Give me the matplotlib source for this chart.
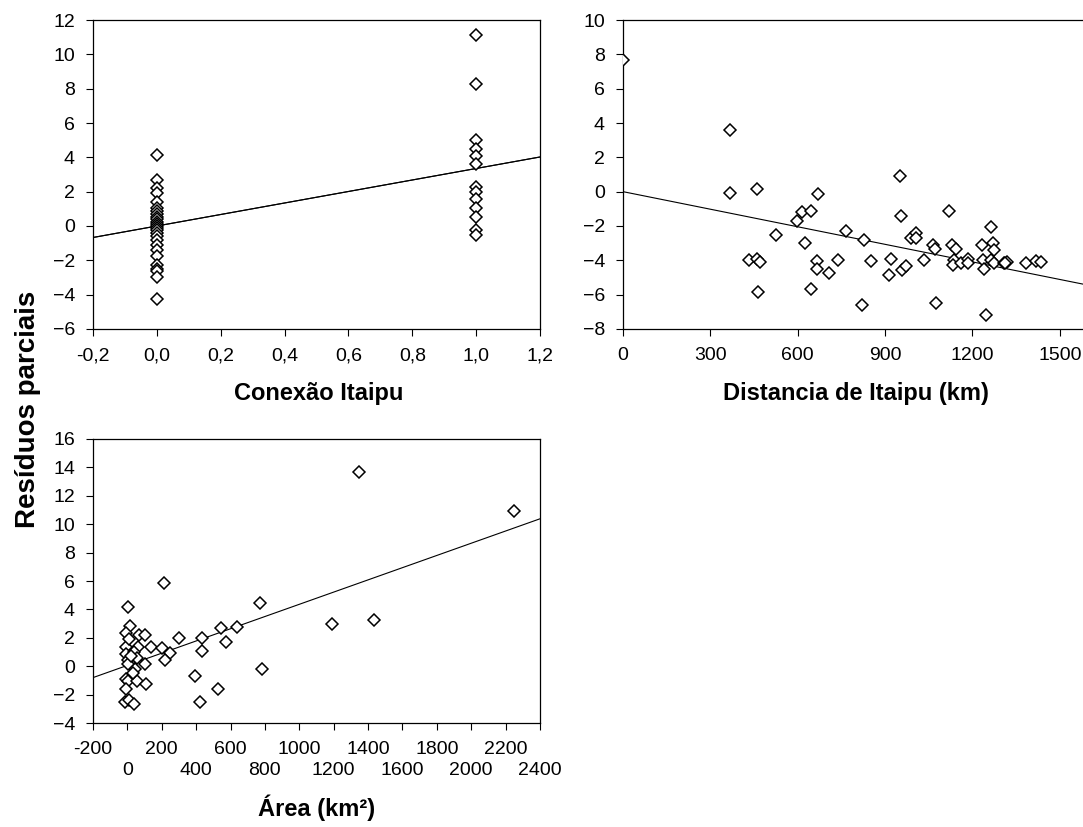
import matplotlib.pyplot as plt
import numpy as np

plt.rcParams['font.family'] = ['Liberation Sans', 'DejaVu Sans']

# Panel 1: Conexao Itaipu (0 = not connected, 1 = connected)
conexao_x0 = [4.15, 2.7, 2.2, 1.9, 1.4, 1.05, 0.85, 0.7, 0.55, 0.4, 0.25, 0.1,
              0.0, -0.1, -0.25, -0.4, -0.6, -0.8, -1.1, -1.4, -1.75, -2.3,
              -2.5, -2.6, -3.0, -4.25]
conexao_x1 = [11.1, 8.25, 5.0, 4.5, 4.05, 3.6, 2.3, 2.0, 1.6, 1.05, 0.5,
              -0.25, -0.5]
conexao_fit = (3.35, 0.0)  # slope, intercept
conexao_ticks = [-0.2, 0.0, 0.2, 0.4, 0.6, 0.8, 1.0, 1.2]
conexao_labels = ['-0,2', '0,0', '0,2', '0,4', '0,6', '0,8', '1,0', '1,2']

# Panel 2: Distancia de Itaipu (km)
dist_km = [0, 369, 369, 460, 431, 460, 471, 463, 524, 597, 616, 646, 671, 626,
           667, 667, 707, 646, 738, 764, 826, 851, 820, 920, 913, 950, 955,
           958, 972, 989, 1006, 1006, 1032, 1064, 1073, 1075, 1121, 1129,
           1142, 1136, 1132, 1161, 1184, 1186, 1233, 1236, 1241, 1245, 1262,
           1270, 1273, 1262, 1273, 1307, 1319, 1313, 1384, 1418, 1435]
dist_res = [7.65, 3.62, -0.1, 0.17, -3.98, -3.9, -4.08, -5.83, -2.5, -1.71,
            -1.21, -1.13, -0.13, -3.02, -4.04, -4.52, -4.75, -5.67, -3.98,
            -2.31, -2.83, -4.04, -6.6, -3.9, -4.85, 0.9, -1.4, -4.56, -4.33,
            -2.69, -2.4, -2.69, -3.98, -3.08, -3.33, -6.48, -1.13, -3.08,
            -3.33, -3.98, -4.27, -4.13, -3.94, -4.17, -3.13, -3.98, -4.48,
            -7.17, -2.06, -3.02, -3.37, -3.98, -4.13, -4.13, -4.08, -4.17,
            -4.13, -4.04, -4.08]
dist_fit = (-0.00341, 0.0)

# Panel 3: Area (km2)
area_km2 = [1348, 2249, 213, 2, 770, 15, -6, 66, 103, -6, 64, 138, 204, 246,
            219, 303, 436, 436, 543, 638, 572, -6, 37, 4, 56, 103, 43, -6, 4,
            56, 107, -6, -12, 8, 37, 394, 423, 528, 784, 1193, 1434, 4, 20,
            30, 10]
area_res = [13.67, 10.96, 5.88, 4.19, 4.42, 2.82, 2.31, 2.19, 2.19, 1.36,
            1.32, 1.32, 1.25, 0.96, 0.42, 2.02, 2.02, 1.08, 2.66, 2.78, 1.72,
            0.85, 1.01, 0.42, 0.61, 0.19, -0.21, -0.87, -1.04, -1.04, -1.27,
            -1.62, -2.52, -2.35, -2.68, -0.68, -2.52, -1.58, -0.21, 2.94, 3.25,
            0.19, 0.7, -0.5, 1.9]
area_fit = (0.0043, 0.06)
area_ticks_top = [-200, 200, 600, 1000, 1400, 1800, 2200]
area_ticks_low = [0, 400, 800, 1200, 1600, 2000, 2400]


def style(ax, xlim, ylim, yticks):
    ax.set_xlim(xlim)
    ax.set_ylim(ylim)
    ax.set_yticks(yticks)
    ax.tick_params(direction='out', length=5, width=0.8, labelsize=14,
                   pad=8, top=False, right=False, colors='black')
    for s in ax.spines.values():
        s.set_linewidth(0.9)


def scatter_fit(ax, x, y, fit, xlim):
    ax.plot(x, y, linestyle='none', marker='D', markersize=5.8,
            markerfacecolor='white', markeredgecolor='black',
            markeredgewidth=1.1, zorder=3)
    xs = np.array(xlim)
    ax.plot(xs, fit[0] * xs + fit[1], color='black', linewidth=0.8, zorder=2)


fig = plt.figure(figsize=(10.83, 8.27), dpi=100)

# top left
ax1 = fig.add_axes([0.0859, 0.6022, 0.4127, 0.3736])
xl1 = (-0.2, 1.2)
scatter_fit(ax1, [0.0] * len(conexao_x0), conexao_x0, conexao_fit, xl1)
scatter_fit(ax1, [1.0] * len(conexao_x1), conexao_x1, conexao_fit, xl1)
style(ax1, xl1, (-6, 12), np.arange(-6, 13, 2))
ax1.set_xticks(conexao_ticks)
ax1.set_xticklabels(conexao_labels)
ax1.set_xlabel('Conexão Itaipu', fontsize=17, fontweight='bold')
ax1.xaxis.set_label_coords(0.505, -0.172)

# top right (right edge runs past the figure)
ax2 = fig.add_axes([0.5753, 0.6022, 0.4302, 0.3736])
xl2 = (0, 1600)
scatter_fit(ax2, dist_km, dist_res, dist_fit, xl2)
style(ax2, xl2, (-8, 10), np.arange(-8, 11, 2))
ax2.set_xticks(np.arange(0, 1501, 300))
ax2.set_xlabel('Distancia de Itaipu (km)', fontsize=17, fontweight='bold')
ax2.xaxis.set_label_coords(0.5, -0.172)

# bottom left: staggered labels, second row drawn as minor ticks
ax3 = fig.add_axes([0.0859, 0.1257, 0.4127, 0.3435])
xl3 = (-200, 2400)
scatter_fit(ax3, area_km2, area_res, area_fit, xl3)
style(ax3, xl3, (-4, 16), np.arange(-4, 17, 2))
ax3.set_xticks(area_ticks_top)
ax3.set_xticks(area_ticks_low, minor=True)
ax3.set_xticklabels([str(t) for t in area_ticks_top])
ax3.set_xticklabels([str(t) for t in area_ticks_low], minor=True)
ax3.tick_params(axis='x', which='minor', direction='out', length=5,
                width=0.8, labelsize=14, pad=23)
ax3.set_xlabel('Área (km²)', fontsize=17, fontweight='bold')
ax3.xaxis.set_label_coords(0.5, -0.25)

fig.text(0.026, 0.505, 'Resíduos parciais', rotation=90, fontsize=20,
         fontweight='bold', ha='center', va='center')

fig.savefig('out.png', dpi=100)
plt.close(fig)
